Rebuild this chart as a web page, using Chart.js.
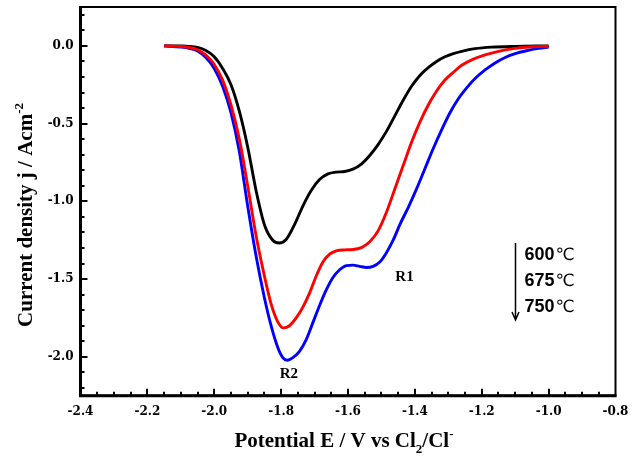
<!DOCTYPE html>
<html>
<head>
<meta charset="utf-8">
<script src="https://cdn.jsdelivr.net/npm/chart.js@4/dist/chart.umd.min.js"></script>
<style>
  html, body { margin: 0; padding: 0; background: #fff; }
  #wrap { width: 638px; height: 460px; position: relative; }
</style>
</head>
<body>
<div id="wrap"><canvas id="c"></canvas></div>
<script>
// Cathodic current density vs potential at three melt temperatures
const potential600 = [-2.15, -2.10, -2.075, -2.05, -2.025, -2.00, -1.975, -1.95, -1.925, -1.90, -1.875, -1.85, -1.825, -1.805, -1.785, -1.76, -1.735, -1.71, -1.685, -1.66, -1.635, -1.61, -1.585, -1.56, -1.535, -1.51, -1.485, -1.46, -1.435, -1.41, -1.385, -1.36, -1.335, -1.31, -1.285, -1.26, -1.22, -1.17, -1.10, -1.00];
const current600 = [0, -0.001, -0.003, -0.01, -0.03, -0.07, -0.145, -0.25, -0.42, -0.65, -0.93, -1.15, -1.25, -1.268, -1.245, -1.15, -1.03, -0.93, -0.86, -0.823, -0.812, -0.808, -0.793, -0.76, -0.705, -0.635, -0.55, -0.45, -0.35, -0.26, -0.19, -0.14, -0.10, -0.07, -0.05, -0.035, -0.018, -0.008, -0.003, 0];

const potential675 = [-2.15, -2.10, -2.075, -2.05, -2.025, -2.00, -1.975, -1.95, -1.925, -1.90, -1.875, -1.85, -1.83, -1.81, -1.793, -1.775, -1.755, -1.735, -1.715, -1.695, -1.675, -1.655, -1.635, -1.61, -1.585, -1.56, -1.535, -1.51, -1.485, -1.46, -1.435, -1.41, -1.385, -1.36, -1.335, -1.31, -1.285, -1.26, -1.23, -1.19, -1.15, -1.10, -1.05, -1.00];
const current675 = [0, -0.004, -0.01, -0.025, -0.06, -0.12, -0.22, -0.38, -0.60, -0.90, -1.22, -1.48, -1.66, -1.775, -1.814, -1.80, -1.75, -1.68, -1.59, -1.48, -1.39, -1.34, -1.318, -1.312, -1.31, -1.298, -1.26, -1.19, -1.07, -0.92, -0.77, -0.62, -0.49, -0.38, -0.29, -0.22, -0.17, -0.125, -0.09, -0.058, -0.035, -0.016, -0.006, -0.002];

const potential750 = [-2.15, -2.10, -2.075, -2.05, -2.025, -2.00, -1.975, -1.95, -1.925, -1.90, -1.875, -1.85, -1.83, -1.81, -1.795, -1.782, -1.765, -1.745, -1.725, -1.705, -1.685, -1.665, -1.645, -1.625, -1.605, -1.585, -1.565, -1.545, -1.525, -1.505, -1.485, -1.465, -1.445, -1.42, -1.395, -1.37, -1.345, -1.32, -1.295, -1.27, -1.245, -1.22, -1.19, -1.16, -1.13, -1.10, -1.06, -1.03, -1.00];
const current750 = [0, -0.008, -0.016, -0.033, -0.075, -0.145, -0.26, -0.43, -0.68, -1.03, -1.35, -1.62, -1.80, -1.94, -2.005, -2.022, -2.005, -1.965, -1.89, -1.78, -1.67, -1.57, -1.49, -1.44, -1.413, -1.41, -1.418, -1.425, -1.418, -1.39, -1.33, -1.25, -1.15, -1.04, -0.92, -0.79, -0.66, -0.54, -0.43, -0.34, -0.27, -0.21, -0.155, -0.11, -0.075, -0.05, -0.028, -0.016, -0.008];

const temperatureLabels = ['600', '675', '750'];
const xMajorTicks = [-2.4, -2.2, -2.0, -1.8, -1.6, -1.4, -1.2, -1.0, -0.8];
const yMajorTicks = [-2.0, -1.5, -1.0, -0.5, 0.0];
const peakNames = ['R1', 'R2'];

// Placement of the text notes, in axis units
const notes = {
  peaks: [{ x: -1.431, y: -1.486 }, { x: -1.777, y: -2.113 }],
  arrow: { x: -1.10, yTop: -1.268, yBottom: -1.763 },
  temps: { x: -1.072, y: [-1.345, -1.512, -1.679] }
};

const SERIF = '"Liberation Serif", "Times New Roman", serif';

function pairs(xs, ys) { return xs.map((x, i) => ({ x: x, y: ys[i] })); }

function range(from, to, step) {
  const out = [];
  const n = Math.round((to - from) / step);
  for (let i = 0; i <= n; i++) out.push(+(from + i * step).toFixed(4));
  return out;
}

// Draws a run of text pieces (with sub/superscripts) starting at x
function drawRuns(ctx, runs, x, y) {
  let cx = x;
  runs.forEach(r => {
    ctx.font = r.font;
    ctx.fillText(r.text, cx, y + (r.dy || 0));
    cx += ctx.measureText(r.text).width + (r.gap || 0);
  });
}
function runsWidth(ctx, runs) {
  let w = 0;
  runs.forEach(r => { ctx.font = r.font; w += ctx.measureText(r.text).width + (r.gap || 0); });
  return w;
}

// Keep the plot box fixed: no extra room for overhanging tick labels
function clearPadding(s) {
  s.paddingTop = 0; s.paddingBottom = 0; s.paddingLeft = 0; s.paddingRight = 0;
}

const framePlugin = {
  id: 'frame',
  afterDraw(chart) {
    const { ctx, chartArea: a, scales } = chart;
    const xs = scales.x, ys = scales.y;
    ctx.save();
    ctx.strokeStyle = '#000';
    ctx.fillStyle = '#000';

    // frame
    ctx.lineWidth = 2;
    ctx.strokeRect(a.left, a.top, a.right - a.left, a.bottom - a.top);
    ctx.lineWidth = 3;
    ctx.beginPath();
    ctx.moveTo(a.left, a.top - 1);
    ctx.lineTo(a.left, a.bottom);
    ctx.lineTo(a.right + 1, a.bottom);
    ctx.stroke();

    // inward tick marks
    ctx.lineWidth = 2;
    range(-2.4, -0.8, 0.05).forEach(v => {
      const major = xMajorTicks.some(m => Math.abs(m - v) < 1e-6);
      const px = Math.round(xs.getPixelForValue(v));
      if (px <= a.left + 1 || px >= a.right - 1) return;
      ctx.beginPath();
      ctx.moveTo(px, a.bottom);
      ctx.lineTo(px, a.bottom - (major ? 7 : 4));
      ctx.stroke();
    });
    range(-2.2, 0.2, 0.1).forEach(v => {
      const major = yMajorTicks.some(m => Math.abs(m - v) < 1e-6);
      const py = Math.round(ys.getPixelForValue(v));
      ctx.beginPath();
      ctx.moveTo(a.left, py);
      ctx.lineTo(a.left + (major ? 7 : 4), py);
      ctx.stroke();
    });

    // x axis title
    const big = 'bold 21px ' + SERIF;
    const small = 'bold 13px ' + SERIF;
    const xRuns = [
      { text: 'Potential E / V vs Cl', font: big },
      { text: '2', font: small, dy: 6 },
      { text: '/Cl', font: big },
      { text: '-', font: small, dy: -9 }
    ];
    ctx.textBaseline = 'alphabetic';
    ctx.textAlign = 'left';
    const xw = runsWidth(ctx, xRuns);
    drawRuns(ctx, xRuns, 344 - xw / 2, 446.5);

    // y axis title
    const yRuns = [
      { text: 'Current density j / Acm', font: big },
      { text: '-2', font: small, dy: -9 }
    ];
    const yw = runsWidth(ctx, yRuns);
    ctx.save();
    ctx.translate(32, 215);
    ctx.rotate(-Math.PI / 2);
    drawRuns(ctx, yRuns, -yw / 2, 0);
    ctx.restore();

    // peak names
    ctx.font = 'bold 15px ' + SERIF;
    ctx.textAlign = 'center';
    ctx.textBaseline = 'middle';
    peakNames.forEach((name, i) => {
      const p = notes.peaks[i];
      ctx.fillText(name, xs.getPixelForValue(p.x), ys.getPixelForValue(p.y));
    });

    // temperature arrow
    const ax = Math.round(xs.getPixelForValue(notes.arrow.x)) + 0.5;
    const ay0 = ys.getPixelForValue(notes.arrow.yTop);
    const ay1 = ys.getPixelForValue(notes.arrow.yBottom);
    ctx.lineWidth = 1.5;
    ctx.beginPath();
    ctx.moveTo(ax, ay0);
    ctx.lineTo(ax, ay1);
    ctx.moveTo(ax - 3.5, ay1 - 8);
    ctx.lineTo(ax, ay1);
    ctx.lineTo(ax + 3.5, ay1 - 8);
    ctx.stroke();

    // temperature labels
    ctx.textAlign = 'left';
    ctx.textBaseline = 'middle';
    temperatureLabels.forEach((t, i) => {
      const tx = xs.getPixelForValue(notes.temps.x);
      const ty = ys.getPixelForValue(notes.temps.y[i]);
      ctx.font = 'bold 18px "Liberation Sans", Arial, sans-serif';
      ctx.fillText(t, tx, ty);
      const w = ctx.measureText(t).width;
      ctx.font = '17px "Liberation Sans", "DejaVu Sans", "Noto Sans CJK SC", sans-serif';
      ctx.fillText('\u2103', tx + w + 1, ty);
    });
    ctx.restore();
  }
};

new Chart(document.getElementById('c'), {
  type: 'line',
  data: {
    datasets: [
      { label: temperatureLabels[1] + '\u2103', data: pairs(potential675, current675), borderColor: '#ff0000', order: 0 },
      { label: temperatureLabels[2] + '\u2103', data: pairs(potential750, current750), borderColor: '#0000ff', order: 1 },
      { label: temperatureLabels[0] + '\u2103', data: pairs(potential600, current600), borderColor: '#000000', order: 2 }
    ].map(d => Object.assign(d, {
      borderWidth: 2.9,
      pointRadius: 0,
      fill: false,
      cubicInterpolationMode: 'monotone'
    }))
  },
  options: {
    responsive: true,
    maintainAspectRatio: false,
    animation: false,
    devicePixelRatio: 1,
    layout: { padding: { top: 7, right: 22.5, left: 0, bottom: 0 } },
    plugins: { legend: { display: false }, tooltip: { enabled: false } },
    scales: {
      x: {
        type: 'linear',
        min: -2.4,
        max: -0.8,
        grid: { display: false, drawTicks: false },
        border: { display: false },
        afterBuildTicks(s) { s.ticks = xMajorTicks.map(v => ({ value: v })); },
        afterFit(s) { s.height = 64.3; clearPadding(s); },
        ticks: {
          color: '#000',
          font: { family: '"DejaVu Serif", serif', size: 12, weight: 'bold' },
          padding: 9,
          maxRotation: 0,
          autoSkip: false,
          callback: v => v.toFixed(1)
        }
      },
      y: {
        type: 'linear',
        min: -2.25,
        max: 0.25,
        grid: { display: false, drawTicks: false },
        border: { display: false },
        afterBuildTicks(s) { s.ticks = yMajorTicks.map(v => ({ value: v })); },
        afterFit(s) { s.width = 80.5; clearPadding(s); },
        ticks: {
          color: '#000',
          font: { family: '"DejaVu Serif", serif', size: 12, weight: 'bold' },
          padding: 7,
          autoSkip: false,
          callback: v => v.toFixed(1)
        }
      }
    }
  },
  plugins: [framePlugin]
});
</script>
</body>
</html>
